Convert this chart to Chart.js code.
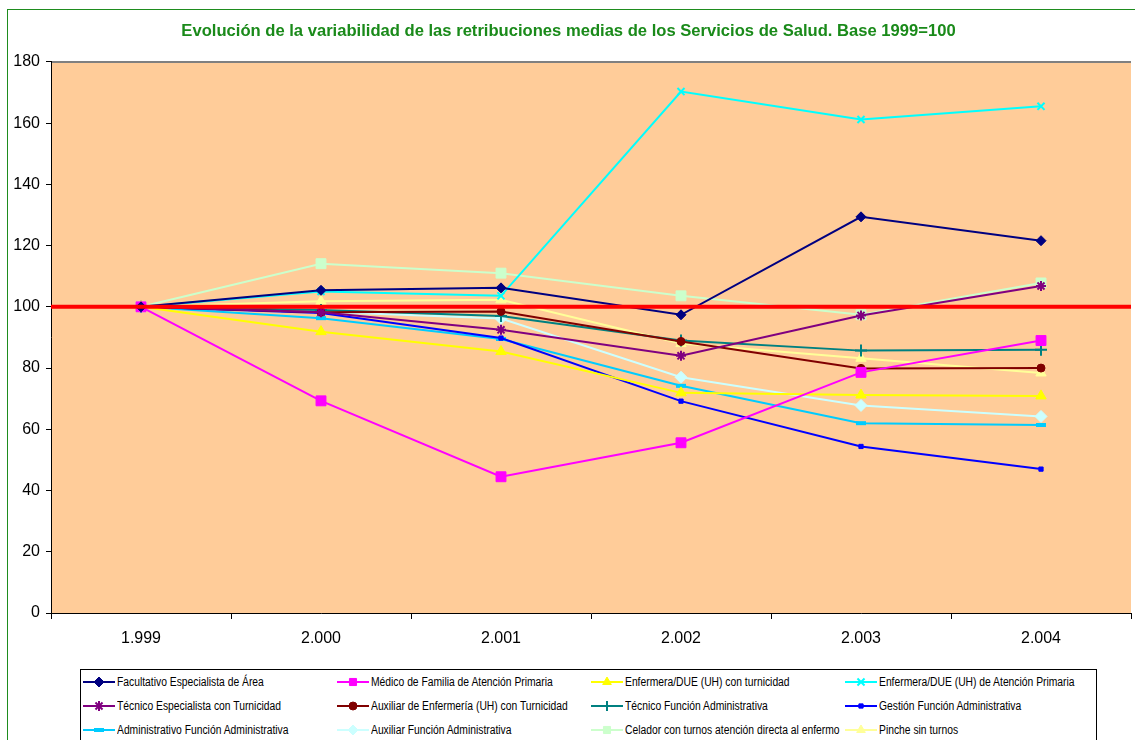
<!DOCTYPE html>
<html>
<head>
<meta charset="utf-8">
<script src="https://cdn.jsdelivr.net/npm/chart.js@4/dist/chart.umd.min.js"></script>
<style>
  html, body { margin: 0; padding: 0; background: #fff; overflow: hidden; }
  body { width: 1135px; height: 740px; position: relative; }
  #frame { position: absolute; left: 7px; top: 9px; width: 1200px; height: 800px;
    border-left: 1px solid #1e8c1e; border-top: 1px solid #1e8c1e; }
  #wrap { position: absolute; left: 0; top: 0; width: 1140px; height: 665px; }
  #legend { position: absolute; left: 80px; top: 669px; width: 1017px; height: 90px;
    border: 1px solid #000; background: #fff; box-sizing: border-box;
    display: grid; grid-template-columns: 254px 254px 254px 254px; grid-auto-rows: 24px;
    padding: 0 0 0 2px;
    font-family: 'Liberation Sans', Arial, sans-serif; font-size: 12px; }
  .item { display: flex; align-items: center; white-space: nowrap; }
  .item canvas { margin-right: 2px; }
  .item span { display: inline-block; transform: scaleX(0.86); transform-origin: left center; }
</style>
</head>
<body>
<div id="frame"></div>
<div id="wrap"><canvas id="chart" width="1140" height="665"></canvas></div>
<div id="legend"></div>
<script>
// categorias (años) y series, base 1999 = 100
const years = ['1.999', '2.000', '2.001', '2.002', '2.003', '2.004'];

const facultativo      = [100, 105.4, 106.2, 97.4, 129.4, 121.6];
const medicoFamilia    = [100, 69.3, 44.5, 55.6, 78.6, 89.0];
const enfermeraUH      = [100, 91.9, 85.4, 71.9, 71.2, 70.9];
const enfermeraAP      = [100, 105.0, 103.6, 170.3, 161.2, 165.5];
const tecnicoEsp       = [100, 98.2, 92.5, 84.0, 97.2, 106.8];
const auxiliarEnf      = [100, 98.2, 98.5, 88.7, 79.9, 80.0];
const tecnicoFA        = [100, 99.0, 97.0, 89.0, 85.7, 86.0];
const gestionFA        = [100, 98.0, 89.8, 69.2, 54.4, 47.0];
const administrativoFA = [100, 96.3, 89.5, 74.2, 62.0, 61.4];
const auxiliarFA       = [100, 98.4, 96.2, 77.0, 67.8, 64.2];
const celador          = [100, 114.1, 111.0, 103.6, 97.4, 107.8];
const pinche           = [100, 101.8, 102.3, 88.0, 83.2, 78.4];

const baseValue = 100;

const FONT = "'Liberation Sans', Arial, sans-serif";

function serie(label, data, color, pointStyle, radius, borderWidth) {
  return {
    label, data,
    borderColor: color,
    backgroundColor: color,
    pointBackgroundColor: color,
    pointBorderColor: color,
    pointStyle,
    pointRadius: radius,
    pointHoverRadius: radius,
    pointBorderWidth: borderWidth || 1,
    borderWidth: 2,
    tension: 0,
    fill: false
  };
}

const datasets = [
  serie('Facultativo Especialista de Área', facultativo, '#000080', 'rectRot', 5),
  serie('Médico de Familia de Atención Primaria', medicoFamilia, '#FF00FF', 'rect', 7),
  serie('Enfermera/DUE (UH) con turnicidad', enfermeraUH, '#FFFF00', 'triangle', 6),
  serie('Enfermera/DUE (UH) de Atención Primaria', enfermeraAP, '#00FFFF', 'crossRot', 5, 2),
  serie('Técnico Especialista con Turnicidad', tecnicoEsp, '#800080', 'star', 5, 2),
  serie('Auxiliar de Enfermería (UH) con Turnicidad', auxiliarEnf, '#800000', 'circle', 4),
  serie('Técnico Función Administrativa', tecnicoFA, '#008080', 'cross', 6, 2),
  serie('Gestión Función Administrativa', gestionFA, '#0000FF', 'rect', 3),
  serie('Administrativo Función Administrativa', administrativoFA, '#00CCFF', 'line', 5, 4),
  serie('Auxiliar Función Administrativa', auxiliarFA, '#CCFFFF', 'rectRot', 6),
  serie('Celador con turnos atención directa al enfermo', celador, '#CCFFCC', 'rect', 7),
  serie('Pinche sin turnos', pinche, '#FFFF99', 'triangle', 6)
];

const plotBackground = {
  id: 'plotBackground',
  beforeDraw(chart) {
    const { ctx, chartArea: a } = chart;
    ctx.save();
    ctx.fillStyle = '#FFCC99';
    ctx.fillRect(a.left, a.top, a.right - a.left, a.bottom - a.top);
    ctx.strokeStyle = '#808080';
    ctx.lineWidth = 2;
    ctx.beginPath();
    ctx.moveTo(a.left, a.top);
    ctx.lineTo(a.right, a.top);
    ctx.stroke();
    ctx.restore();
  }
};

// linea roja de base 100
const baseLine = {
  id: 'baseLine',
  afterDatasetsDraw(chart) {
    const { ctx, chartArea: a, scales } = chart;
    const y = scales.y.getPixelForValue(baseValue);
    ctx.save();
    ctx.strokeStyle = '#FF0000';
    ctx.lineWidth = 4;
    ctx.beginPath();
    ctx.moveTo(a.left, y);
    ctx.lineTo(a.right, y);
    ctx.stroke();
    ctx.restore();
  }
};

Chart.defaults.font.family = FONT;
Chart.defaults.color = '#000';

const chart = new Chart(document.getElementById('chart').getContext('2d'), {
  type: 'line',
  data: { labels: years, datasets },
  plugins: [plotBackground, baseLine],
  options: {
    responsive: false,
    animation: false,
    layout: { padding: { left: 0, right: 3, top: 0, bottom: 0 } },
    plugins: {
      legend: { display: false },
      tooltip: { enabled: false },
      title: {
        display: true,
        text: 'Evolución de la variabilidad de las retribuciones medias de los Servicios de Salud. Base 1999=100',
        color: '#1a8a1a',
        font: { family: FONT, size: 16.6, weight: 'bold' },
        padding: { top: 21, bottom: 21 }
      }
    },
    scales: {
      x: {
        offset: true,
        afterFit: (s) => { s.height = 52; },
        grid: { offset: true, drawOnChartArea: false, tickLength: 6, color: '#000' },
        border: { color: '#000', width: 1 },
        ticks: { font: { size: 16 }, padding: 10, color: '#000' }
      },
      y: {
        min: 0, max: 180,
        afterFit: (s) => { s.width = 51; },
        grid: { drawOnChartArea: false, tickLength: 5, color: '#000' },
        border: { color: '#000', width: 1 },
        ticks: { stepSize: 20, font: { size: 16 }, padding: 6, color: '#000' }
      }
    }
  }
});

// leyenda en HTML, 4 columnas
const legend = document.getElementById('legend');
datasets.forEach((ds) => {
  const item = document.createElement('div');
  item.className = 'item';
  const c = document.createElement('canvas');
  c.width = 32; c.height = 12;
  const g = c.getContext('2d');
  g.strokeStyle = ds.borderColor;
  g.fillStyle = ds.pointBackgroundColor;
  g.lineWidth = 2;
  g.beginPath(); g.moveTo(0, 6); g.lineTo(32, 6); g.stroke();
  if (Chart.helpers && Chart.helpers.drawPoint) {
    g.lineWidth = ds.pointBorderWidth;
    Chart.helpers.drawPoint(g, {
      pointStyle: ds.pointStyle, rotation: 0,
      radius: Math.min(ds.pointRadius, 5), borderWidth: ds.pointBorderWidth
    }, 16, 6);
  }
  const t = document.createElement('span');
  t.textContent = ds.label;
  item.appendChild(c);
  item.appendChild(t);
  legend.appendChild(item);
});
</script>
</body>
</html>
